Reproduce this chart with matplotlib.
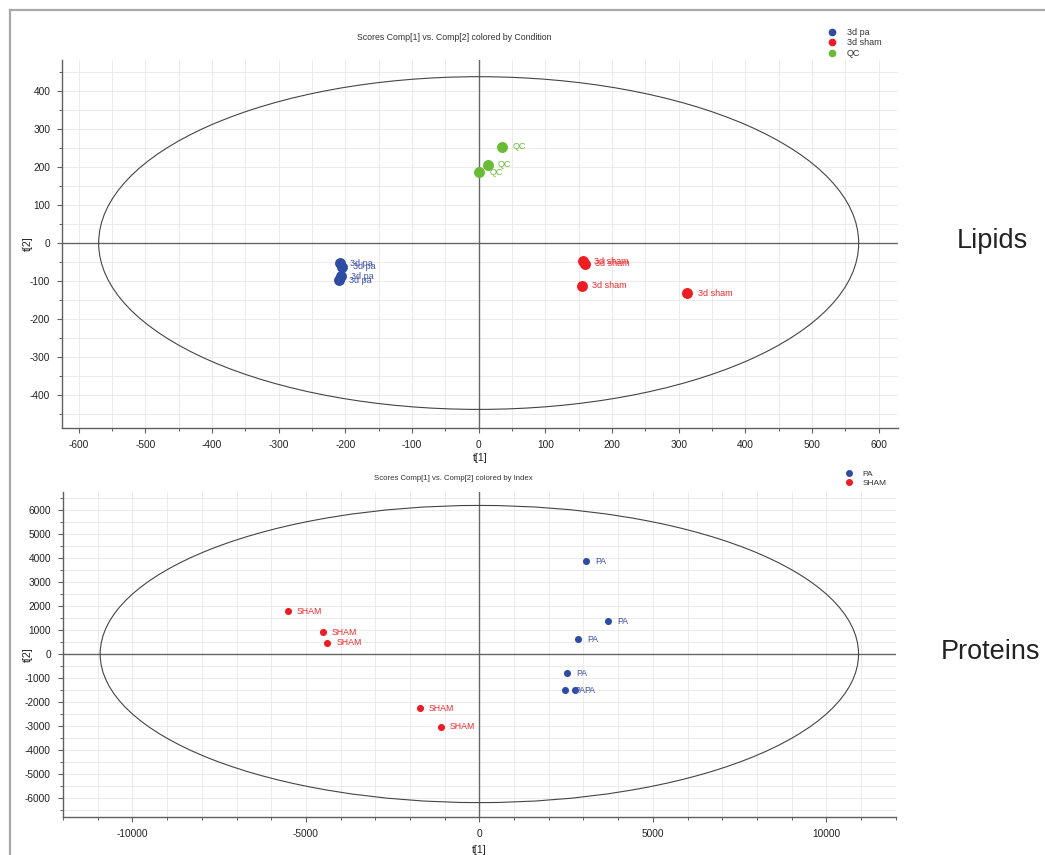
import matplotlib
matplotlib.use("Agg")
import matplotlib.pyplot as plt
from matplotlib.patches import Ellipse
from matplotlib.lines import Line2D
from matplotlib.ticker import MultipleLocator

plt.rcParams['font.family'] = ['Liberation Sans', 'DejaVu Sans']
plt.rcParams['axes.unicode_minus'] = False

# ---------------- data ----------------
# Lipids PCA scores
lip_pa_t1 = [-208.7, -204.7, -207.0, -210.0]
lip_pa_t2 = [-53.0, -63.0, -88.0, -98.5]
lip_sham_t1 = [157.0, 159.0, 154.5, 313.0]
lip_sham_t2 = [-47.5, -54.5, -112.0, -132.0]
lip_qc_t1 = [35.0, 13.5, 1.0]
lip_qc_t2 = [253.0, 206.0, 187.0]
lip_groups = ["3d pa", "3d sham", "QC"]
lip_ellipse = (570.0, 438.0)

# Proteins PCA scores
pro_pa_t1 = [3077, 3720, 2855, 2538, 2471, 2760]
pro_pa_t2 = [3862, 1362, 612, -804, -1500, -1500]
pro_sham_t1 = [-5525, -4516, -4383, -1719, -1104]
pro_sham_t2 = [1778, 917, 471, -2250, -3028]
pro_groups = ["PA", "SHAM"]
pro_ellipse = (10930.0, 6190.0)

BLUE = "#2f4ca3"
RED = "#ee1d24"
GREEN = "#67bb35"
BLUE_T = "#3f51aa"
RED_T = "#ee2a2a"
GREEN_T = "#6cbd3a"

W, H = 1045, 855
fig = plt.figure(figsize=(W / 100, H / 100), dpi=100)
fig.patch.set_facecolor("white")


def fx(px):
    return px / W


def fy(py):
    return 1 - py / H


def style_axes(ax, xmaj, xmin, ymaj, ymin):
    ax.xaxis.set_major_locator(MultipleLocator(xmaj))
    ax.xaxis.set_minor_locator(MultipleLocator(xmin))
    ax.yaxis.set_major_locator(MultipleLocator(ymaj))
    ax.yaxis.set_minor_locator(MultipleLocator(ymin))
    ax.grid(which="both", color="#ebebeb", lw=0.7, zorder=0)
    ax.set_axisbelow(True)
    for s in ["top", "right"]:
        ax.spines[s].set_visible(False)
    for s in ["left", "bottom"]:
        ax.spines[s].set_color("#606060")
        ax.spines[s].set_linewidth(1.0)
    ax.tick_params(which="major", length=3.5, width=0.8, color="#606060",
                   labelsize=7.3, labelcolor="#222222", pad=5)
    ax.tick_params(which="minor", length=2, width=0.7, color="#606060")
    ax.axhline(0, color="#666666", lw=1.0, zorder=1)
    ax.axvline(0, color="#666666", lw=1.0, zorder=1)


# ---------------- Lipids ----------------
ax1 = fig.add_axes([fx(62), fy(428), fx(898) - fx(62), fy(60) - fy(428)])
ax1.set_xlim(-625, 629)
ax1.set_ylim(-487, 482)
style_axes(ax1, 100, 50, 100, 50)
ax1.add_patch(Ellipse((0, 0), 2 * lip_ellipse[0], 2 * lip_ellipse[1],
                      fill=False, ec="#444444", lw=0.8, zorder=2))

for xs, ys, c, tc, lab in [(lip_pa_t1, lip_pa_t2, BLUE, BLUE_T, lip_groups[0]),
                           (lip_sham_t1, lip_sham_t2, RED, RED_T, lip_groups[1]),
                           (lip_qc_t1, lip_qc_t2, GREEN, GREEN_T, lip_groups[2])]:
    ax1.scatter(xs, ys, s=62, color=c, zorder=3, linewidths=0)
    for x, y in zip(xs, ys):
        ax1.annotate(lab, (x, y), xytext=(7.5, 0), textcoords="offset points",
                     va="center", ha="left", fontsize=6.5, color=tc, zorder=4)

ax1.set_xlabel("t[1]", fontsize=7.5, color="#222222")
ax1.set_ylabel("t[2]", fontsize=7.5, color="#222222")
ax1.xaxis.set_label_coords(0.5, -(453 - 428) / (428 - 60), transform=ax1.transAxes)
ax1.yaxis.set_label_coords((28 - 62) / (898 - 62), 0.5, transform=ax1.transAxes)
ax1.yaxis.label.set_va("center")
fig.text(fx(454), fy(37), "Scores Comp[1] vs. Comp[2] colored by Condition",
         ha="center", va="center", fontsize=6.3, color="#333333")

h1 = [Line2D([], [], ls="", marker="o", ms=4.5, color=c, mec=c) for c in (BLUE, RED, GREEN)]
ax1.legend(h1, lip_groups, loc="upper left", bbox_to_anchor=(fx(829), fy(28)),
           bbox_transform=fig.transFigure, frameon=False, fontsize=6.5,
           handlelength=0.6, handletextpad=1.4, labelspacing=0.15, borderpad=0,
           borderaxespad=0, labelcolor="#333333")

# ---------------- Proteins ----------------
ax2 = fig.add_axes([fx(62.7), fy(817), fx(896) - fx(62.7), fy(492) - fy(817)])
ax2.set_xlim(-12010, 12010)
ax2.set_ylim(-6790, 6750)
style_axes(ax2, 5000, 1000, 1000, 500)
ax2.add_patch(Ellipse((0, 0), 2 * pro_ellipse[0], 2 * pro_ellipse[1],
                      fill=False, ec="#444444", lw=0.8, zorder=2))

for xs, ys, c, tc, lab in [(pro_pa_t1, pro_pa_t2, BLUE, BLUE_T, pro_groups[0]),
                           (pro_sham_t1, pro_sham_t2, RED, RED_T, pro_groups[1])]:
    ax2.scatter(xs, ys, s=26, color=c, zorder=3, linewidths=0)
    for x, y in zip(xs, ys):
        ax2.annotate(lab, (x, y), xytext=(6.5, 0), textcoords="offset points",
                     va="center", ha="left", fontsize=6.3, color=tc, zorder=4)

ax2.set_xlabel("t[1]", fontsize=7.5, color="#222222")
ax2.set_ylabel("t[2]", fontsize=7.5, color="#222222")
ax2.xaxis.set_label_coords(0.5, -(845 - 817) / (817 - 492), transform=ax2.transAxes)
ax2.yaxis.set_label_coords((28 - 62.7) / (896 - 62.7), 0.5, transform=ax2.transAxes)
ax2.yaxis.label.set_va("center")
fig.text(fx(453), fy(478), "Scores Comp[1] vs. Comp[2] colored by Index",
         ha="center", va="center", fontsize=5.6, color="#333333")

h2 = [Line2D([], [], ls="", marker="o", ms=4.0, color=c, mec=c) for c in (BLUE, RED)]
ax2.legend(h2, pro_groups, loc="upper left", bbox_to_anchor=(fx(846.5), fy(470.5)),
           bbox_transform=fig.transFigure, frameon=False, fontsize=6.0,
           handlelength=0.6, handletextpad=1.3, labelspacing=0.05, borderpad=0,
           borderaxespad=0, labelcolor="#333333")

# side labels
fig.text(fx(957), fy(241), "Lipids", ha="left", va="center", fontsize=19.5, color="#222222")
fig.text(fx(941), fy(652), "Proteins", ha="left", va="center", fontsize=19.5, color="#222222")

# frame lines (left and top)
fig.add_artist(Line2D([fx(10), fx(10)], [fy(10), 0], transform=fig.transFigure,
                      color="#a8a8a8", lw=1.6))
fig.add_artist(Line2D([fx(10), 1], [fy(10), fy(10)], transform=fig.transFigure,
                      color="#a8a8a8", lw=1.6))

fig.savefig("out.png", dpi=100)
